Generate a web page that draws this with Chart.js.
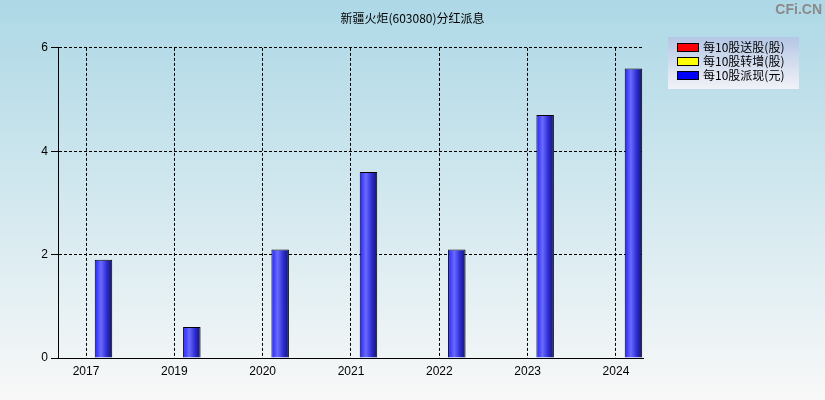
<!DOCTYPE html>
<html><head><meta charset="utf-8">
<script src="https://cdn.jsdelivr.net/npm/chart.js@4/dist/chart.umd.min.js"></script>
<style>html,body{margin:0;padding:0;background:#fff}canvas{display:block}</style>
</head><body><canvas id="c" width="825" height="400"></canvas>
<script>
const chartTitle = '新疆火炬(603080)分红派息';
const years = ['2017', '2019', '2020', '2021', '2022', '2023', '2024'];
const songGu = [0, 0, 0, 0, 0, 0, 0];
const zhuanZeng = [0, 0, 0, 0, 0, 0, 0];
const paiXian = [1.9, 0.6, 2.1, 3.6, 2.1, 4.7, 5.6];
const seriesNames = ['每10股送股(股)', '每10股转增(股)', '每10股派现(元)'];
const seriesColors = ['#ff0000', '#ffff00', '#0000ff'];
const yTicks = [0, 2, 4, 6];
const watermark = 'CFi.CN';

const toPoints = arr => arr.map((v, i) => ({x: i, y: v}));

const decor = {
  id: 'decor',
  beforeDraw(chart) {
    const {ctx, width, height} = chart;
    const g = ctx.createLinearGradient(0, 0, 0, height);
    g.addColorStop(0, '#add8e6');
    g.addColorStop(1, '#f8f8f8');
    ctx.save();
    ctx.fillStyle = g;
    ctx.fillRect(0, 0, width, height);
    ctx.restore();
  },
  beforeDatasetsDraw(chart) {
    const ctx = chart.ctx;
    const meta = chart.getDatasetMeta(2);
    meta.data.forEach(el => {
      const p = el.getProps(['x', 'width'], true);
      const l = p.x - p.width / 2, r = p.x + p.width / 2;
      const g = ctx.createLinearGradient(l, 0, r, 0);
      g.addColorStop(0, '#2222ff');
      g.addColorStop(0.35, '#6a6aff');
      g.addColorStop(0.7, '#2a2ad0');
      g.addColorStop(1, '#14146e');
      el.options = Object.assign({}, el.options, {backgroundColor: g});
    });
  },
  afterDraw(chart) {
    const ctx = chart.ctx;
    ctx.save();
    const bx = 668, by = 37, bw = 131, bh = 52;
    const lg = ctx.createLinearGradient(0, by, 0, by + bh);
    lg.addColorStop(0, '#b4c7e4');
    lg.addColorStop(1, '#f2f2f8');
    ctx.fillStyle = lg;
    ctx.fillRect(bx, by, bw, bh);
    ctx.font = '12px "Noto Sans CJK SC", sans-serif';
    ctx.textBaseline = 'middle';
    seriesNames.forEach((name, i) => {
      const yy = 43 + i * 14;
      ctx.fillStyle = seriesColors[i];
      ctx.fillRect(677, yy, 22, 8);
      ctx.strokeStyle = '#000';
      ctx.lineWidth = 1;
      ctx.strokeRect(677.5, yy + 0.5, 21, 8);
      ctx.fillStyle = '#000';
      ctx.fillText(name, 703, yy + 4.5);
    });
    ctx.font = 'bold 14px "Liberation Sans", Arial, sans-serif';
    ctx.fillStyle = '#8a8a8a';
    ctx.textAlign = 'right';
    ctx.fillText(watermark, 822, 10);
    ctx.restore();
  }
};

new Chart(document.getElementById('c'), {
  type: 'bar',
  data: {
    datasets: [
      {label: seriesNames[0], data: toPoints(songGu), backgroundColor: seriesColors[0], borderWidth: 0, inflateAmount: 0},
      {label: seriesNames[1], data: toPoints(zhuanZeng), backgroundColor: seriesColors[1], borderWidth: 0, inflateAmount: 0},
      {label: seriesNames[2], data: toPoints(paiXian), backgroundColor: seriesColors[2], borderColor: '#000', borderWidth: 1, inflateAmount: 0}
    ]
  },
  options: {
    responsive: false,
    animation: false,
    events: [],
    barThickness: 17.5,
    layout: {padding: 0},
    plugins: {
      legend: {display: false},
      tooltip: {enabled: false},
      title: {
        display: true,
        text: chartTitle,
        color: '#000',
        font: {size: 12, family: '"Noto Sans CJK SC", sans-serif', weight: 'normal', lineHeight: 1.2},
        padding: {top: 11.5, bottom: 22}
      }
    },
    scales: {
      x: {
        type: 'linear',
        offset: false,
        min: -0.317,
        max: 6.306,
        afterBuildTicks: s => { s.ticks = years.map((_, i) => ({value: i})); },
        afterFit: s => { s.height = 42; },
        ticks: {
          callback: v => years[v],
          color: '#000',
          font: {size: 12, family: '"Liberation Sans", Arial, sans-serif'},
          padding: 6,
          autoSkip: false,
          maxRotation: 0
        },
        grid: {offset: false, color: '#000', lineWidth: 1, drawTicks: false},
        border: {display: true, color: '#000', width: 1, dash: [3, 2]}
      },
      y: {
        min: 0,
        max: 6,
        afterBuildTicks: s => { s.ticks = yTicks.map(v => ({value: v})); },
        afterFit: s => { s.width = 58; },
        ticks: {
          color: '#000',
          font: {size: 12, family: '"Liberation Sans", Arial, sans-serif'},
          padding: 3
        },
        grid: {color: '#000', lineWidth: 1, tickLength: 7, tickColor: '#000', tickBorderDash: []},
        border: {display: true, color: '#000', width: 1, dash: [3, 2]}
      },
      yRight: {
        position: 'right',
        display: true,
        min: 0,
        max: 6,
        afterFit: s => { s.width = 182; },
        ticks: {display: false},
        grid: {display: false, drawTicks: false},
        border: {display: false}
      }
    }
  },
  plugins: [decor]
});
</script>
</body></html>
